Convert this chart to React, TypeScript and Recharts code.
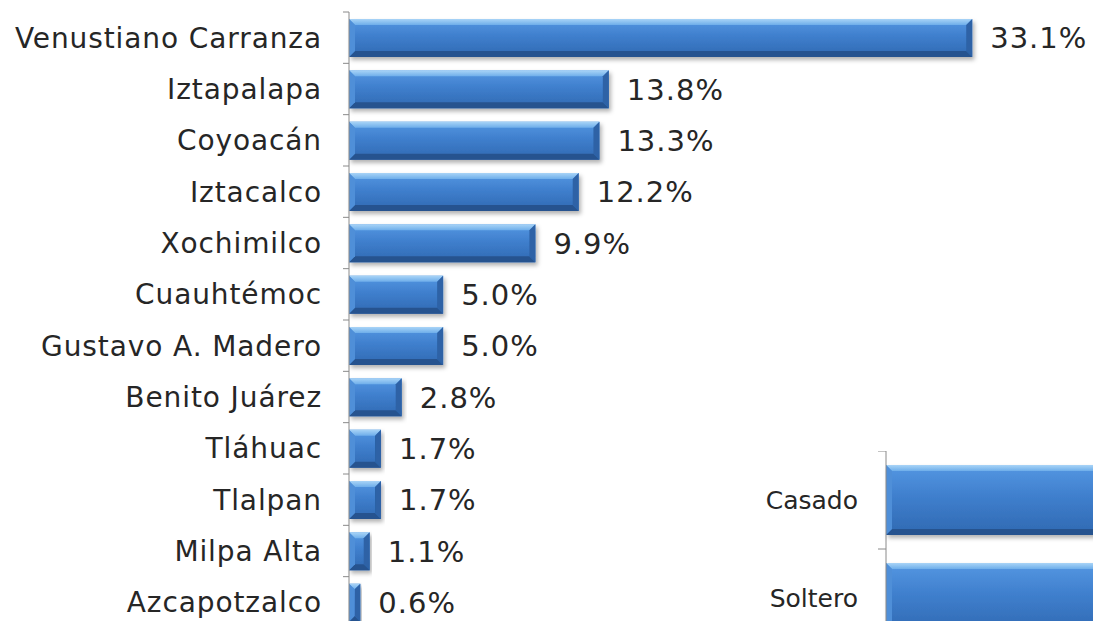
import React from 'react';
import { BarChart, Bar, XAxis, YAxis, LabelList } from 'recharts';

const municipios = [
  'Venustiano Carranza',
  'Iztapalapa',
  'Coyoacán',
  'Iztacalco',
  'Xochimilco',
  'Cuauhtémoc',
  'Gustavo A. Madero',
  'Benito Juárez',
  'Tláhuac',
  'Tlalpan',
  'Milpa Alta',
  'Azcapotzalco',
];
const porcentajes = [33.1, 13.8, 13.3, 12.2, 9.9, 5.0, 5.0, 2.8, 1.7, 1.7, 1.1, 0.6];

const estadoCivil = ['Casado', 'Soltero'];
const estadoValores = [55, 45];

const dataMun = municipios.map((name, i) => ({ name, value: porcentajes[i] }));
const dataEC = estadoCivil.map((name, i) => ({ name, value: estadoValores[i] }));

const FONT = '"DejaVu Sans", Verdana, sans-serif';
const TEXT = '#262626';
const AXIS = '#8a8a8a';

const C1 = { w: 1093, h: 628, top: 12, bottom: 0, yw: 349, right: 85 };
const band1 = (C1.h - C1.top - C1.bottom) / municipios.length;

const C2 = { w: 600, h: 196, top: 0, bottom: 0, yw: 186, right: 0 };
const band2 = (C2.h - C2.top - C2.bottom) / estadoCivil.length;

const BevelBar = (props: any) => {
  const { x, y, width, height } = props;
  if (!width || width <= 0) return null;
  const b = Math.min(6, width / 2, height / 5);
  const r = x + width;
  const bt = y + height;
  return (
    <g filter="url(#barShadow)">
      <rect x={x} y={y} width={width} height={height} fill="url(#barFace)" />
      <polygon points={`${x},${y} ${r},${y} ${r - b},${y + b} ${x + b},${y + b}`} fill="url(#barTop)" />
      <polygon points={`${x + b},${bt - b} ${r - b},${bt - b} ${r},${bt} ${x},${bt}`} fill="#26538f" />
      <polygon points={`${r - b},${y + b} ${r},${y} ${r},${bt} ${r - b},${bt - b}`} fill="#2d62a6" />
      <polygon points={`${x},${y} ${x + b},${y + b} ${x + b},${bt - b} ${x},${bt}`} fill="#4f8fd8" />
    </g>
  );
};

const makeTick = (fontSize: number, half: number, tickLen: number, gap: number, spacing: number) => (props: any) => {
  const { x, y, payload } = props;
  return (
    <g>
      <line x1={x - tickLen} x2={x} y1={y - half} y2={y - half} stroke={AXIS} strokeWidth={1} />
      <text
        x={x - gap}
        y={y}
        dy="0.36em"
        textAnchor="end"
        fontSize={fontSize}
        fontFamily={FONT}
        fill={TEXT}
        letterSpacing={spacing}
      >
        {payload.value}
      </text>
    </g>
  );
};

const Tick1 = makeTick(28, band1 / 2, 6, 27, 0.9);
const Tick2 = makeTick(25, band2 / 2, 8, 28, 0);

export default function App() {
  return (
    <div
      style={{
        position: 'fixed',
        left: 0,
        top: 0,
        width: 1093,
        height: 621,
        overflow: 'hidden',
        background: '#ffffff',
      }}
    >
      <svg width={0} height={0} style={{ position: 'absolute' }}>
        <defs>
          <linearGradient id="barFace" x1="0" y1="0" x2="0" y2="1">
            <stop offset="0%" stopColor="#5597e2" />
            <stop offset="45%" stopColor="#3f7fcd" />
            <stop offset="100%" stopColor="#3069b2" />
          </linearGradient>
          <linearGradient id="barTop" x1="0" y1="0" x2="0" y2="1">
            <stop offset="0%" stopColor="#a9d4f7" />
            <stop offset="100%" stopColor="#6eaeea" />
          </linearGradient>
          <filter id="barShadow" x="-5%" y="-20%" width="115%" height="160%">
            <feDropShadow dx="2" dy="3" stdDeviation="2" floodColor="#000" floodOpacity="0.3" />
          </filter>
        </defs>
      </svg>

      <div style={{ position: 'absolute', left: 0, top: 0 }}>
        <BarChart
          width={C1.w}
          height={C1.h}
          data={dataMun}
          layout="vertical"
          margin={{ top: C1.top, right: C1.right, bottom: C1.bottom, left: 0 }}
        >
          <XAxis type="number" domain={[0, 35]} hide />
          <YAxis
            type="category"
            dataKey="name"
            width={C1.yw}
            axisLine={{ stroke: AXIS }}
            tickLine={false}
            tickSize={0}
            tickMargin={0}
            tick={Tick1}
            interval={0}
          />
          <Bar dataKey="value" barSize={38} shape={BevelBar} isAnimationActive={false}>
            <LabelList
              dataKey="value"
              position="right"
              offset={18}
              formatter={(v: any) => `${Number(v).toFixed(1)}%`}
              fill={TEXT}
              fontSize={29}
              fontFamily={FONT}
              letterSpacing={1}
            />
          </Bar>
        </BarChart>
      </div>

      <div style={{ position: 'absolute', left: 700, top: 451 }}>
        <BarChart
          width={C2.w}
          height={C2.h}
          data={dataEC}
          layout="vertical"
          margin={{ top: C2.top, right: C2.right, bottom: C2.bottom, left: 0 }}
        >
          <XAxis type="number" domain={[0, 80]} hide />
          <YAxis
            type="category"
            dataKey="name"
            width={C2.yw}
            axisLine={{ stroke: AXIS }}
            tickLine={false}
            tickSize={0}
            tickMargin={0}
            tick={Tick2}
            interval={0}
          />
          <Bar dataKey="value" barSize={70} shape={BevelBar} isAnimationActive={false} />
        </BarChart>
      </div>
    </div>
  );
}
